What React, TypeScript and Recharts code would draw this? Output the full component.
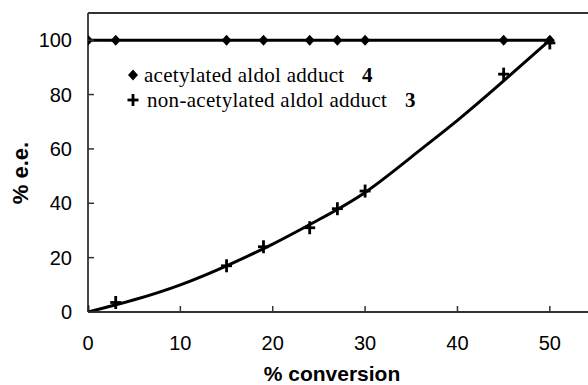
import { ComposedChart, Line, Scatter, XAxis, YAxis, ReferenceLine } from "recharts";

const acetylatedX = [0, 3, 15, 19, 24, 27, 30, 45, 50];
const acetylatedEE = [100, 100, 100, 100, 100, 100, 100, 100, 100];
const nonAcetylatedX = [0, 3, 15, 19, 24, 27, 30, 45, 50];
const nonAcetylatedEE = [0, 3.5, 17, 24, 31, 38, 44.5, 87.5, 99];
// fitted curve
const fitX = [0, 5, 10, 15, 20, 25, 30, 35, 40, 45, 50];
const fitEE = [0, 4.5, 10, 17, 25, 34, 44, 57, 70.5, 85, 100];
const xTicks = [0, 10, 20, 30, 40, 50];
const yTicks = [0, 20, 40, 60, 80, 100];

const acetylated = acetylatedX.map((x, i) => ({ x, y: acetylatedEE[i] }));
const nonAcetylated = nonAcetylatedX.map((x, i) => ({ x, y: nonAcetylatedEE[i] }));
const fit = fitX.map((x, i) => ({ x, y: fitEE[i] }));

const SANS = "'Liberation Sans', Arial, sans-serif";
const SERIF = "'Liberation Serif', 'Times New Roman', serif";
const AXIS = "#333";

function Diamond(props: any) {
  const { cx, cy } = props;
  if (cx == null || cy == null) return null;
  return (
    <path
      d={`M${cx},${cy - 5.5}L${cx + 5},${cy}L${cx},${cy + 5.5}L${cx - 5},${cy}Z`}
      fill="#000"
    />
  );
}

function Plus(props: any) {
  const { cx, cy } = props;
  if (cx == null || cy == null) return null;
  return (
    <g stroke="#000" strokeWidth={2.8}>
      <line x1={cx - 5.5} y1={cy} x2={cx + 5.5} y2={cy} />
      <line x1={cx} y1={cy - 6.5} x2={cx} y2={cy + 6.5} />
    </g>
  );
}

// tick label plus a short inward tick mark
function YTick(props: any) {
  const { x, y, payload } = props;
  return (
    <g>
      <line x1={x + 16} y1={y} x2={x + 22} y2={y} stroke={AXIS} strokeWidth={1.5} />
      <text
        x={x}
        y={y}
        dy="0.36em"
        textAnchor="end"
        fontFamily={SANS}
        fontSize={20}
        fill="#000"
      >
        {payload.value}
      </text>
    </g>
  );
}

function XTick(props: any) {
  const { x, y, payload } = props;
  return (
    <g>
      <line x1={x} y1={y - 24} x2={x} y2={y - 30} stroke={AXIS} strokeWidth={1.5} />
      <text
        x={x}
        y={y}
        dy="0.71em"
        textAnchor="middle"
        fontFamily={SANS}
        fontSize={20}
        fill="#000"
      >
        {payload.value}
      </text>
    </g>
  );
}

function LegendBox() {
  const text = {
    position: "absolute" as const,
    whiteSpace: "nowrap" as const,
    fontFamily: SERIF,
    fontSize: 21,
    letterSpacing: 0.3,
    color: "#000",
    lineHeight: "20px",
  };
  return (
    <div style={{ position: "absolute", left: 127, top: 65, width: 320, height: 50 }}>
      <svg style={{ position: "absolute", left: 0, top: 0 }} width={14} height={50}>
        <path d="M6,4.5L11,10L6,15.5L1,10Z" fill="#000" />
        <g stroke="#000" strokeWidth={2.8}>
          <line x1={0.5} y1={35} x2={11.5} y2={35} />
          <line x1={6} y1={29} x2={6} y2={41} />
        </g>
      </svg>
      <div style={{ ...text, left: 17, top: 0 }}>acetylated aldol adduct</div>
      <div style={{ ...text, left: 235, top: 0, fontWeight: "bold" }}>4</div>
      <div style={{ ...text, left: 20, top: 25 }}>non-acetylated aldol adduct</div>
      <div style={{ ...text, left: 278, top: 25, fontWeight: "bold" }}>3</div>
    </div>
  );
}

export default function App() {
  return (
    <div
      style={{
        position: "absolute",
        left: 0,
        top: 0,
        width: 588,
        height: 385,
        overflow: "hidden",
        background: "#fff",
      }}
    >
      <ComposedChart
        width={600}
        height={385}
        margin={{ top: 13, right: 4, left: 0, bottom: 0 }}
      >
        <XAxis
          type="number"
          dataKey="x"
          domain={[0, 55]}
          ticks={xTicks}
          allowDataOverflow
          height={73}
          stroke={AXIS}
          strokeWidth={1.8}
          tickLine={false}
          tickSize={0}
          tickMargin={24}
          tick={<XTick />}
          label={({ viewBox }: any) => (
            <text
              x={viewBox.x + viewBox.width / 2 - 10}
              y={381}
              textAnchor="middle"
              fontFamily={SANS}
              fontWeight="bold"
              fontSize={21}
              fill="#000"
            >
              % conversion
            </text>
          )}
        />
        <YAxis
          type="number"
          dataKey="y"
          domain={[0, 110]}
          ticks={yTicks}
          allowDataOverflow
          width={88}
          stroke={AXIS}
          strokeWidth={1.8}
          tickLine={false}
          tickSize={0}
          tickMargin={16}
          tick={<YTick />}
          label={() => (
            <text
              x={20}
              y={173}
              transform="rotate(-90 20 173)"
              textAnchor="middle"
              dominantBaseline="central"
              fontFamily={SANS}
              fontWeight="bold"
              fontSize={22}
              fill="#000"
            >
              % e.e.
            </text>
          )}
        />
        <ReferenceLine y={110} stroke={AXIS} strokeWidth={1.8} />
        <Line
          data={fit}
          dataKey="y"
          type="natural"
          stroke="#000"
          strokeWidth={3}
          dot={false}
          isAnimationActive={false}
        />
        <Line
          data={acetylated}
          dataKey="y"
          type="linear"
          stroke="#000"
          strokeWidth={3}
          dot={false}
          isAnimationActive={false}
        />
        <Scatter data={acetylated} dataKey="y" shape={Diamond} isAnimationActive={false} />
        <Scatter data={nonAcetylated} dataKey="y" shape={Plus} isAnimationActive={false} />
      </ComposedChart>
      <LegendBox />
    </div>
  );
}
